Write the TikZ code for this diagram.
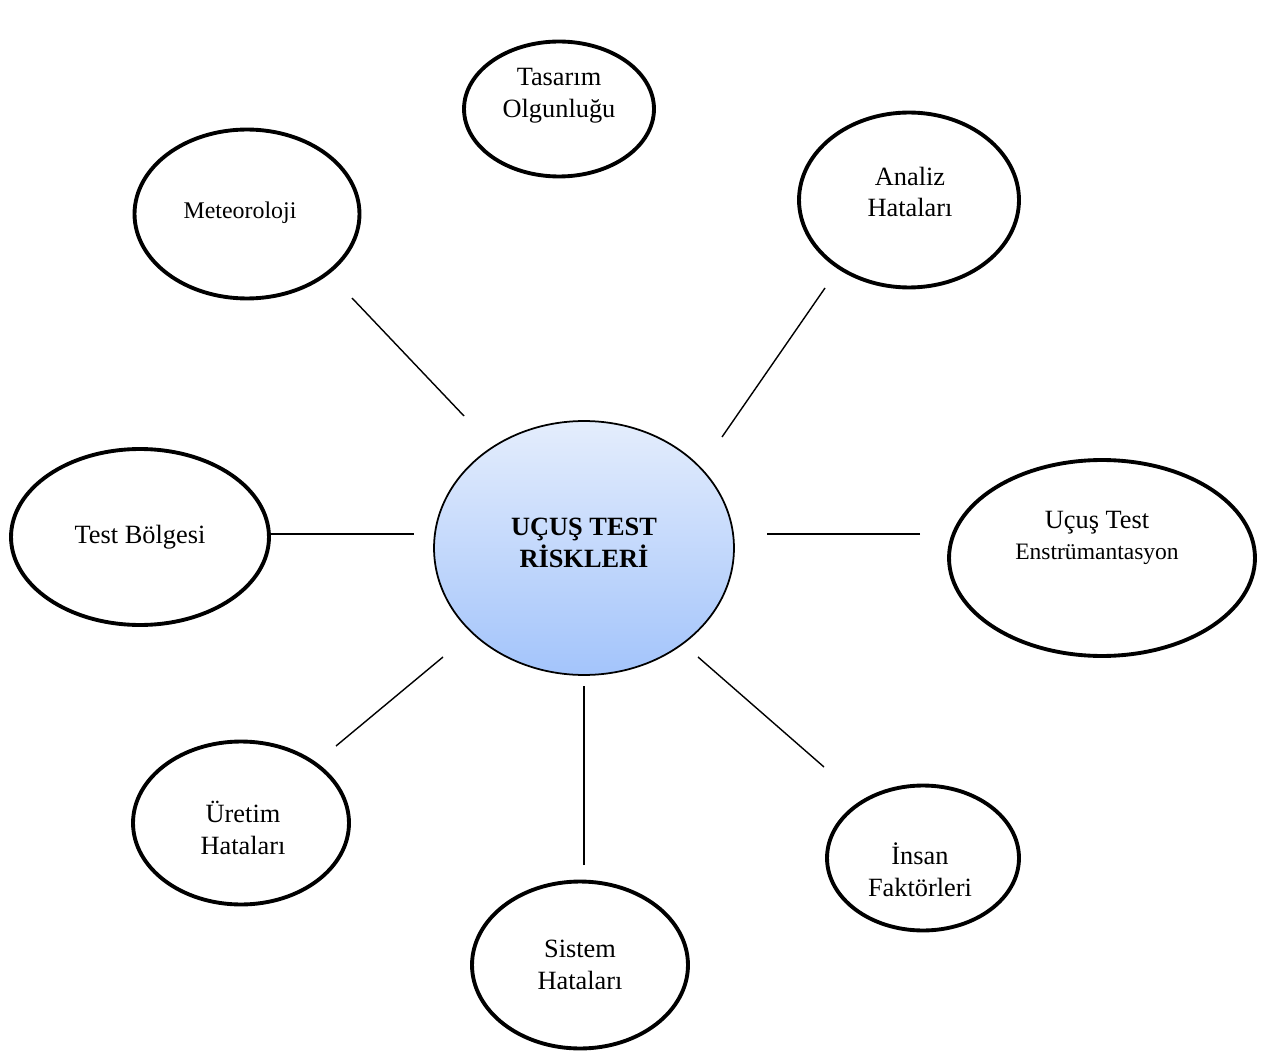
\documentclass[tikz,border=0pt]{standalone}
\usepackage{fontspec}
\setmainfont{Liberation Serif}
\usepackage{xcolor}
\usetikzlibrary{shapes, positioning, calc}

\definecolor{hubtop}{HTML}{E4EDFC}
\definecolor{hubbottom}{HTML}{A3C4FB}

\begin{document}
\begin{tikzpicture}
					[x=0.02cm, y=-0.02cm,
					risk/.style={ellipse, draw, line width=2.2pt, inner sep=0pt},
					hub/.style={ellipse, draw, line width=1pt, inner sep=0pt, top color=hubtop, bottom color=hubbottom},
					label/.style={align=center, font=\fontsize{15}{18}\selectfont},
					small/.style={align=center, font=\fontsize{13.6}{16}\selectfont},
					spoke/.style={line width=0.8pt}
					]
					\useasboundingbox (0,0) rectangle (1264,1057);
					
					% Nodes
					\node[hub, minimum width=6.0cm, minimum height=5.08cm] (hub) at (584,548) {};
					\node[label, font=\fontsize{15}{18}\selectfont\bfseries] (hubtext) at (584,543) {UÇUŞ TEST\\RİSKLERİ};
					
					\node[risk, minimum width=3.8cm, minimum height=2.7cm] (tas) at (559,109) {};
					\node[label] (tastext) at (559,96) {Tasarım\\Olgunluğu};
					\node[risk, minimum width=4.5cm, minimum height=3.38cm] (met) at (247,214) {};
					\node[small] (mettext) at (240,213) {Meteoroloji};
					\node[risk, minimum width=4.4cm, minimum height=3.5cm] (ana) at (909,200) {};
					\node[label] (anatext) at (910,192) {Analiz\\Hataları};
					\node[risk, minimum width=5.16cm, minimum height=3.52cm] (tes) at (140,537) {};
					\node[label] (testext) at (140,537) {Test Bölgesi};
					\node[risk, minimum width=6.12cm, minimum height=3.92cm] (ens) at (1102,558) {};
					\node[label] (enstext) at (1097,538) {Uçuş Test\\{\fontsize{13.4}{16}\selectfont Enstrümantasyon}};
					\node[risk, minimum width=4.32cm, minimum height=3.26cm] (ure) at (241,823) {};
					\node[label] (uretext) at (243,828) {Üretim\\Hataları};
					\node[risk, minimum width=4.32cm, minimum height=3.34cm] (sis) at (580,965) {};
					\node[label] (sistext) at (580,965) {Sistem\\Hataları};
					\node[risk, minimum width=3.84cm, minimum height=2.9cm] (ins) at (923,858) {};
					\node[label] (instext) at (920,870) {İnsan\\Faktörleri};
					
					% Spoke ends
					\coordinate (met1) at (352,298); \coordinate (met2) at (464,416);
					\coordinate (ana1) at (825,288); \coordinate (ana2) at (722,437);
					\coordinate (tes1) at (271,534); \coordinate (tes2) at (414,534);
					\coordinate (ens1) at (920,534); \coordinate (ens2) at (767,534);
					\coordinate (ure1) at (336,746); \coordinate (ure2) at (443,657);
					\coordinate (sis1) at (584,865); \coordinate (sis2) at (584,686);
					\coordinate (ins1) at (824,767); \coordinate (ins2) at (698,657);
					
					% Spokes
					\draw[spoke] (met1) -- (met2);
					\draw[spoke] (ana1) -- (ana2);
					\draw[spoke] (tes1) -- (tes2);
					\draw[spoke] (ens1) -- (ens2);
					\draw[spoke] (ure1) -- (ure2);
					\draw[spoke] (sis1) -- (sis2);
					\draw[spoke] (ins1) -- (ins2);
				\end{tikzpicture}
\end{document}
